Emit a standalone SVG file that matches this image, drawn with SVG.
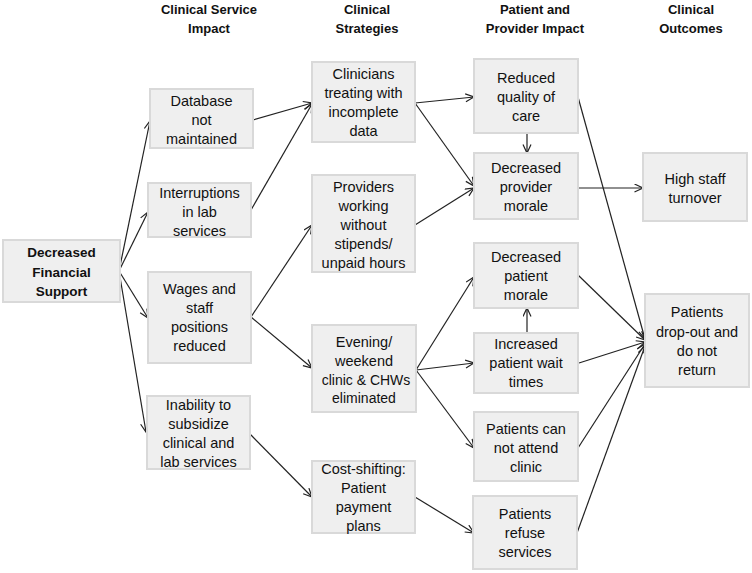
<svg xmlns="http://www.w3.org/2000/svg" width="752" height="573" viewBox="0 0 752 573">
<defs>
<marker id="ah" markerUnits="userSpaceOnUse" markerWidth="12" markerHeight="12" refX="9" refY="4.5" orient="auto">
<path d="M0.5,0.5 L9,4.5 L0.5,8.5" fill="none" stroke="#222" stroke-width="1.2"/>
</marker>
</defs>
<style>
.box{fill:#efefef;stroke:#d9d9d9;stroke-width:2}
.t{font-family:"Liberation Sans",Arial,sans-serif;font-size:14.5px;fill:#111;text-anchor:middle}
.s{font-size:14px}
.b{font-family:"Liberation Sans",Arial,sans-serif;font-weight:bold;font-size:13.5px;fill:#111;text-anchor:middle}
.h{font-family:"Liberation Sans",Arial,sans-serif;font-weight:bold;font-size:13px;fill:#111;text-anchor:middle}
.c{fill:none;stroke:#222;stroke-width:1.2;marker-end:url(#ah)}
</style>
<rect width="752" height="573" fill="#fff"/>
<g id="headers">
<text class="h" x="209" y="14">Clinical Service</text>
<text class="h" x="209" y="33">Impact</text>
<text class="h" x="367" y="14">Clinical</text>
<text class="h" x="367" y="33">Strategies</text>
<text class="h" x="535" y="14">Patient and</text>
<text class="h" x="535" y="33">Provider Impact</text>
<text class="h" x="691" y="14">Clinical</text>
<text class="h" x="691" y="33">Outcomes</text>
</g>
<g id="connectors">
<path class="c" d="M119,271 L150,121"/>
<path class="c" d="M119,271 L148,212"/>
<path class="c" d="M119,271 L148,318"/>
<path class="c" d="M119,271 L146,432"/>
<path class="c" d="M253,120 L312,103"/>
<path class="c" d="M251,210 L312,104"/>
<path class="c" d="M251,317 L312,225"/>
<path class="c" d="M251,317 L312,368"/>
<path class="c" d="M250,434 L312,497"/>
<path class="c" d="M415,103 L474,97"/>
<path class="c" d="M415,103 L474,186"/>
<path class="c" d="M415,225 L474,188"/>
<path class="c" d="M527,134 L527,153"/>
<path class="c" d="M578,97 L645,339"/>
<path class="c" d="M578,188 L643,188"/>
<path class="c" d="M416,370 L474,277"/>
<path class="c" d="M416,370 L474,363"/>
<path class="c" d="M416,370 L474,448"/>
<path class="c" d="M527,333 L527,308"/>
<path class="c" d="M578,275 L645,340"/>
<path class="c" d="M579,363 L645,342"/>
<path class="c" d="M578,448 L645,344"/>
<path class="c" d="M577,533 L645,346"/>
<path class="c" d="M415,497 L474,533"/>
</g>
<g id="n_dfs">
<rect class="box" x="3" y="240" width="117" height="62"/>
<text class="b" x="61.5" y="257">Decreased</text>
<text class="b" x="61.5" y="276.5">Financial</text>
<text class="b" x="61.5" y="296">Support</text>
</g>
<g id="n_database">
<rect class="box" x="150" y="89" width="103" height="59"/>
<text class="t" x="201.5" y="105.5">Database</text>
<text class="t" x="201.5" y="124.5">not</text>
<text class="t" x="201.5" y="143.5">maintained</text>
</g>
<g id="n_interruptions">
<rect class="box" x="148" y="183" width="103" height="54"/>
<text class="t" x="199.5" y="198">Interruptions</text>
<text class="t" x="199.5" y="217">in lab</text>
<text class="t" x="199.5" y="236">services</text>
</g>
<g id="n_wages">
<rect class="box" x="148" y="272" width="103" height="91"/>
<text class="t" x="199.5" y="294">Wages and</text>
<text class="t" x="199.5" y="313">staff</text>
<text class="t" x="199.5" y="332">positions</text>
<text class="t" x="199.5" y="351">reduced</text>
</g>
<g id="n_inability">
<rect class="box" x="147" y="396" width="103" height="73"/>
<text class="t" x="198.5" y="410">Inability to</text>
<text class="t" x="198.5" y="429">subsidize</text>
<text class="t" x="198.5" y="448">clinical and</text>
<text class="t" x="198.5" y="467">lab services</text>
</g>
<g id="n_clinicians">
<rect class="box" x="312" y="62" width="103" height="80"/>
<text class="t" x="363.5" y="79">Clinicians</text>
<text class="t" x="363.5" y="98">treating with</text>
<text class="t" x="363.5" y="117">incomplete</text>
<text class="t" x="363.5" y="136">data</text>
</g>
<g id="n_providers">
<rect class="box" x="312" y="175" width="103" height="97"/>
<text class="t" x="363.5" y="192">Providers</text>
<text class="t" x="363.5" y="211">working</text>
<text class="t" x="363.5" y="230">without</text>
<text class="t" x="363.5" y="249">stipends/</text>
<text class="t" x="363.5" y="268">unpaid hours</text>
</g>
<g id="n_evening">
<rect class="box" x="312" y="325" width="104" height="87"/>
<text class="t" x="364" y="347">Evening/</text>
<text class="t" x="364" y="366">weekend</text>
<text class="t s" x="366" y="385">clinic &amp; CHWs</text>
<text class="t s" x="364" y="403">eliminated</text>
</g>
<g id="n_costshift">
<rect class="box" x="312" y="461" width="103" height="72"/>
<text class="t" x="363.5" y="474">Cost-shifting:</text>
<text class="t" x="363.5" y="493">Patient</text>
<text class="t" x="363.5" y="512">payment</text>
<text class="t" x="363.5" y="531">plans</text>
</g>
<g id="n_quality">
<rect class="box" x="474" y="59" width="104" height="74"/>
<text class="t" x="526" y="83">Reduced</text>
<text class="t" x="526" y="102">quality of</text>
<text class="t" x="526" y="121">care</text>
</g>
<g id="n_provmorale">
<rect class="box" x="474" y="153" width="104" height="66"/>
<text class="t" x="526" y="173">Decreased</text>
<text class="t" x="526" y="192">provider</text>
<text class="t" x="526" y="211">morale</text>
</g>
<g id="n_patmorale">
<rect class="box" x="474" y="243" width="104" height="65"/>
<text class="t" x="526" y="262">Decreased</text>
<text class="t" x="526" y="281">patient</text>
<text class="t" x="526" y="300">morale</text>
</g>
<g id="n_wait">
<rect class="box" x="474" y="333" width="104" height="60"/>
<text class="t" x="526" y="349">Increased</text>
<text class="t" x="526" y="368">patient wait</text>
<text class="t" x="526" y="387">times</text>
</g>
<g id="n_attend">
<rect class="box" x="474" y="412" width="104" height="69"/>
<text class="t" x="526" y="434">Patients can</text>
<text class="t" x="526" y="453">not attend</text>
<text class="t" x="526" y="472">clinic</text>
</g>
<g id="n_refuse">
<rect class="box" x="473" y="496" width="104" height="73"/>
<text class="t" x="525" y="519">Patients</text>
<text class="t" x="525" y="538">refuse</text>
<text class="t" x="525" y="557">services</text>
</g>
<g id="n_turnover">
<rect class="box" x="643" y="153" width="104" height="68"/>
<text class="t" x="695" y="183.5">High staff</text>
<text class="t" x="695" y="202.5">turnover</text>
</g>
<g id="n_dropout">
<rect class="box" x="645" y="294" width="104" height="93"/>
<text class="t" x="697" y="317">Patients</text>
<text class="t" x="697" y="337">drop-out and</text>
<text class="t" x="697" y="356">do not</text>
<text class="t" x="697" y="375">return</text>
</g>
</svg>
